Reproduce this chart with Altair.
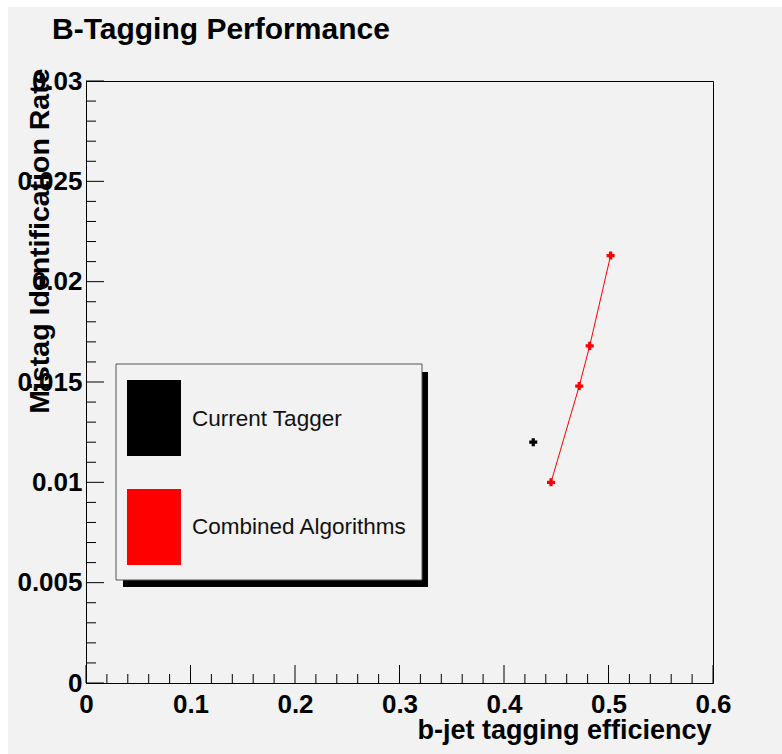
import altair as alt
import pandas as pd

# ---- text ----
title_text = "B-Tagging Performance"
x_title = "b-jet tagging efficiency"
y_title = "Mistag Identification Rate"

# ---- series ----
series_names = ["Current Tagger", "Combined Algorithms"]
series_colors = ["#000000", "#ff0000"]

current_eff = [0.428]
current_mistag = [0.0120]

combined_eff = [0.445, 0.472, 0.482, 0.502]
combined_mistag = [0.0100, 0.0148, 0.0168, 0.0213]

# ---- axis ticks ----
x_major = [0, 0.1, 0.2, 0.3, 0.4, 0.5, 0.6]
y_major = [0, 0.005, 0.01, 0.015, 0.02, 0.025, 0.03]
x_minor = [round(0.02 * i, 3) for i in range(31) if i % 5]
y_minor = [round(0.001 * i, 4) for i in range(31) if i % 5]

W, H = 627, 602
BOLD = "Liberation Sans"
BG = "#f2f2f2"

x_scale = alt.Scale(domain=[0, 0.6], nice=False, zero=False)
y_scale = alt.Scale(domain=[0, 0.03], nice=False, zero=False)

x_axis = alt.Axis(
    values=x_major, format="~g", labelPadding=8, labelFlush=False,
    labelOverlap=False, title=x_title, titleX=625, titleY=55,
    titleAlign="right", titleBaseline="alphabetic", titleFontSize=27,
)
y_axis = alt.Axis(
    values=y_major, format="~g", labelPadding=4, labelFlush=False,
    labelOverlap=False, title=y_title, titleX=-38, titleY=-13,
    titleAngle=270, titleAlign="right", titleBaseline="alphabetic",
    titleFontSize=28.5,
)

X = alt.X("eff:Q", scale=x_scale, axis=x_axis)
Y = alt.Y("mistag:Q", scale=y_scale, axis=y_axis)

one = pd.DataFrame({"k": [0]})

# white strips along the top and left edge of the canvas
margins = [
    alt.Chart(one).mark_rect(color="white").encode(
        x=alt.value(-86), x2=alt.value(700), y=alt.value(-81), y2=alt.value(-74)),
    alt.Chart(one).mark_rect(color="white").encode(
        x=alt.value(-86), x2=alt.value(-78), y=alt.value(-81), y2=alt.value(680)),
]

# inward-pointing tick marks
def x_ticks(vals, length):
    return alt.Chart(pd.DataFrame({"eff": vals})).mark_rule(
        color="black", strokeWidth=1).encode(
        x=X, y=alt.value(H), y2=alt.value(H - length))

def y_ticks(vals, length):
    return alt.Chart(pd.DataFrame({"mistag": vals})).mark_rule(
        color="black", strokeWidth=1).encode(
        y=Y, x=alt.value(0), x2=alt.value(length))

ticks = [x_ticks(x_major, 18), x_ticks(x_minor, 9),
         y_ticks(y_major, 18), y_ticks(y_minor, 10)]

# data
df_cur = pd.DataFrame({"eff": current_eff, "mistag": current_mistag})
df_comb = pd.DataFrame({"eff": combined_eff, "mistag": combined_mistag,
                        "i": list(range(len(combined_eff)))})

comb_line = alt.Chart(df_comb).mark_line(
    color=series_colors[1], strokeWidth=1).encode(x=X, y=Y, order="i:O")
comb_pts = alt.Chart(df_comb).mark_point(
    shape="cross", filled=True, size=65, opacity=1,
    color=series_colors[1]).encode(x=X, y=Y)
cur_pts = alt.Chart(df_cur).mark_point(
    shape="cross", filled=True, size=65, opacity=1,
    color=series_colors[0]).encode(x=X, y=Y)

# legend box with drop shadow
legend = [
    alt.Chart(one).mark_rect(color="black").encode(
        x=alt.value(37), x2=alt.value(342), y=alt.value(291), y2=alt.value(506)),
    alt.Chart(one).mark_rect(fill=BG, stroke="#555555", strokeWidth=1).encode(
        x=alt.value(30), x2=alt.value(336), y=alt.value(283), y2=alt.value(499)),
]
swatch_tops = [299, 408]
label_mids = [337.5, 445.5]
for name, color, top, mid in zip(series_names, series_colors, swatch_tops, label_mids):
    legend.append(alt.Chart(one).mark_rect(color=color).encode(
        x=alt.value(41), x2=alt.value(95), y=alt.value(top), y2=alt.value(top + 76)))
    legend.append(alt.Chart(one).mark_text(
        text=name, align="left", baseline="middle", font=BOLD,
        fontSize=22.5, color="#111111").encode(x=alt.value(106), y=alt.value(mid)))

title = alt.Chart(one).mark_text(
    text=title_text, align="left", baseline="alphabetic", font=BOLD,
    fontWeight="bold", fontSize=30, color="black").encode(
    x=alt.value(-34), y=alt.value(-42))

chart = alt.layer(
    *margins, *ticks, comb_line, comb_pts, cur_pts, *legend, title
).properties(
    width=W, height=H,
    autosize=alt.AutoSizeParams(type="none"),
    padding={"left": 86, "top": 81, "right": 69, "bottom": 71},
    background=BG,
).configure_view(
    fill=BG, stroke="black", strokeWidth=1,
).configure_axis(
    domain=True, domainColor="black", domainWidth=1,
    ticks=False, tickSize=0, grid=False,
    labelFont=BOLD, labelFontWeight="bold", labelFontSize=26, labelColor="black",
    titleFont=BOLD, titleFontWeight="bold", titleColor="black",
).configure_axisX(labelBaseline="top")

chart.save("out.html", embed_options={"renderer": "svg", "actions": False})
